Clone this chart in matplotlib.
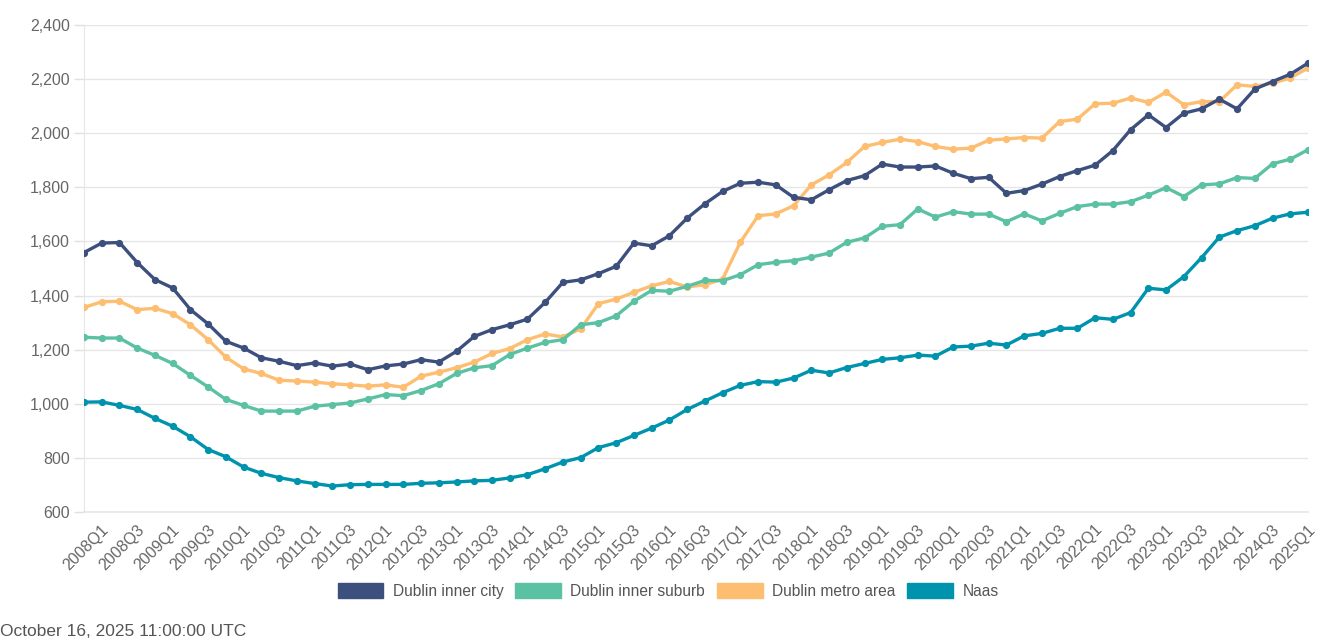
import numpy as np
import matplotlib
matplotlib.use("Agg")
from matplotlib import pyplot as plt
from matplotlib.patches import Patch
from matplotlib.ticker import FuncFormatter
import matplotlib.transforms as mtransforms

plt.rcParams['font.family'] = ['Liberation Sans', 'DejaVu Sans']

# quarters 2008Q1 .. 2025Q2
quarters = [f"{y}Q{q}" for y in range(2008, 2026) for q in range(1, 5)][:70]

inner_city = [1559, 1594, 1596, 1522, 1459, 1428, 1348, 1295, 1231, 1206,
              1170, 1157, 1141, 1151, 1139, 1147, 1126, 1140, 1147, 1163,
              1154, 1194, 1249, 1274, 1292, 1313, 1375, 1449, 1458, 1481,
              1508, 1594, 1584, 1621, 1686, 1739, 1785, 1815, 1819, 1809,
              1763, 1754, 1791, 1825, 1843, 1886, 1875, 1875, 1879, 1852,
              1832, 1837, 1778, 1788, 1812, 1840, 1862, 1882, 1936, 2013,
              2068, 2021, 2074, 2090, 2126, 2090, 2163, 2191, 2218, 2259]

inner_suburb = [1246, 1243, 1243, 1206, 1179, 1149, 1105, 1062, 1016, 994,
                973, 973, 973, 991, 997, 1003, 1018, 1034, 1030, 1049,
                1074, 1112, 1133, 1141, 1182, 1206, 1227, 1237, 1292, 1300,
                1325, 1379, 1419, 1416, 1434, 1456, 1455, 1477, 1514, 1523,
                1529, 1542, 1557, 1597, 1613, 1656, 1662, 1720, 1690, 1710,
                1701, 1701, 1673, 1702, 1676, 1704, 1729, 1738, 1738, 1747,
                1771, 1799, 1766, 1809, 1813, 1836, 1833, 1887, 1904, 1939]

metro_area = [1356, 1377, 1379, 1348, 1353, 1333, 1292, 1237, 1172, 1129,
              1112, 1087, 1084, 1080, 1074, 1070, 1065, 1070, 1061, 1102,
              1117, 1133, 1154, 1186, 1204, 1237, 1258, 1247, 1277, 1370,
              1387, 1412, 1436, 1452, 1432, 1440, 1461, 1597, 1695, 1702,
              1732, 1809, 1846, 1892, 1951, 1966, 1978, 1969, 1951, 1941,
              1945, 1974, 1979, 1984, 1982, 2043, 2052, 2109, 2111, 2130,
              2114, 2152, 2105, 2117, 2117, 2179, 2173, 2185, 2204, 2241]

naas = [1006, 1007, 994, 979, 946, 917, 878, 831, 804, 766,
        743, 727, 715, 705, 696, 701, 702, 702, 702, 706,
        708, 711, 715, 717, 726, 738, 760, 785, 801, 838,
        856, 883, 910, 940, 979, 1010, 1041, 1068, 1082, 1080,
        1095, 1124, 1114, 1134, 1149, 1164, 1170, 1180, 1176, 1210,
        1213, 1224, 1217, 1251, 1260, 1279, 1279, 1318, 1312, 1337,
        1427, 1421, 1470, 1540, 1616, 1640, 1658, 1686, 1702, 1708]

series = [("Dublin inner city", inner_city, "#3d4f7d"),
          ("Dublin inner suburb", inner_suburb, "#5bc1a3"),
          ("Dublin metro area", metro_area, "#fdbe71"),
          ("Naas", naas, "#0093ad")]

fig = plt.figure(figsize=(13.36, 6.4), dpi=100)
ax = fig.add_axes([84 / 1336, 1 - 512 / 640, (1308 - 84) / 1336, (512 - 25) / 640])

x = np.arange(len(quarters))
for i, (name, vals, col) in enumerate(series):
    ax.plot(x, vals, color=col, lw=2.4, marker='o', ms=4.2,
            mec=col, mfc=col, zorder=10 - i, solid_joinstyle='round')

ax.set_xlim(0, len(quarters) - 1)
ax.set_ylim(600, 2400)
ax.set_yticks(np.arange(600, 2401, 200))
ax.yaxis.set_major_formatter(FuncFormatter(lambda v, p: f"{int(v):,}"))
ax.grid(axis='y', color='#e6e6e6', lw=1)
ax.axhline(600, color='#e6e6e6', lw=1.2, clip_on=False, zorder=1)
ax.set_axisbelow(True)
for s in ['top', 'right', 'bottom']:
    ax.spines[s].set_visible(False)
ax.spines['left'].set_color('#e6e6e6')
ax.tick_params(axis='y', colors='#e0e0e0', labelcolor='#666666',
               labelsize=11.5, length=7, width=1, pad=3)

ax.set_xticks(x[::2])
ax.set_xticklabels(quarters[::2], rotation=45, ha='right', va='top',
                   rotation_mode='anchor')
ax.tick_params(axis='x', length=0, labelsize=11.5, labelcolor='#666666', pad=0)
offset = mtransforms.ScaledTranslation(17 / 100, -10 / 100, fig.dpi_scale_trans)
for lab in ax.get_xticklabels():
    lab.set_transform(lab.get_transform() + offset)

handles = [Patch(facecolor=c, edgecolor=c, label=n) for n, _, c in series]
fig.legend(handles=handles, loc='center', bbox_to_anchor=(0.5, 1 - 591 / 640),
           ncol=4, frameon=False, fontsize=11.2, handlelength=2.95,
           handleheight=1.15, handletextpad=0.6, columnspacing=0.75,
           labelcolor='#555555')

fig.text(0, 1 - 631 / 640, "October 16, 2025 11:00:00 UTC", fontsize=12.5,
         color='#555555', ha='left', va='center')

fig.savefig("out.png", dpi=100)
